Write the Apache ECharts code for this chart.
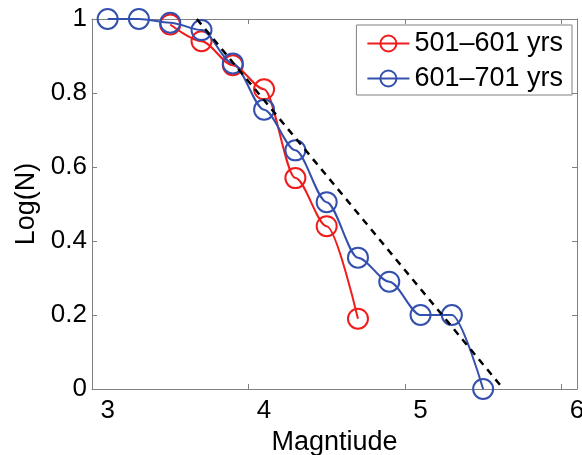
<!DOCTYPE html>
<html>
<head>
<meta charset="utf-8">
<script src="https://cdn.jsdelivr.net/npm/echarts@6/dist/echarts.min.js"></script>
<style>
  html, body { margin: 0; padding: 0; background: #fff; }
  #chart { width: 582px; height: 455px; }
</style>
</head>
<body>
<div id="chart"></div>
<script>
// Cumulative magnitude distributions for two time windows
const magRed = [3.4, 3.6, 3.8, 4.0, 4.2, 4.4, 4.6];
const logNRed = [0.985, 0.94, 0.875, 0.81, 0.57, 0.44, 0.19];

const magBlue = [3.0, 3.2, 3.4, 3.6, 3.8, 4.0, 4.2, 4.4, 4.6, 4.8, 5.0, 5.2, 5.4];
const logNBlue = [1.0, 1.0, 0.99, 0.97, 0.88, 0.755, 0.645, 0.505, 0.355, 0.29, 0.2, 0.2, 0.0];

// Reference straight-line fit (end points)
const fitMag = [3.57, 5.53];
const fitLogN = [1.0, 0.0];

const xTicks = [3, 4, 5, 6];

const seriesNames = ['501\u2013601 yrs', '601\u2013701 yrs'];

const RED = '#f01c1c';
const BLUE = '#3450ae';
const AXIS = '#808080';
const FONT = 'Liberation Sans, Arial, Helvetica, sans-serif';

const pairs = (xs, ys) => xs.map((x, i) => [x, ys[i]]);

const chart = echarts.init(document.getElementById('chart'), null, { renderer: 'canvas' });

const tickLabel = (v) => String(Math.round(v * 10) / 10);

chart.setOption({
  animation: false,
  backgroundColor: '#fff',
  grid: { left: 92, right: 5, top: 19, bottom: 66, containLabel: false, outerBoundsMode: 'none' },
  legend: {
    data: seriesNames,
    orient: 'vertical',
    right: 10,
    top: 25,
    itemWidth: 42,
    itemHeight: 20,
    itemGap: 8,
    padding: [5, 9, 3, 10],
    backgroundColor: '#fff',
    borderColor: AXIS,
    borderWidth: 1,
    borderRadius: 0,
    textStyle: { fontFamily: FONT, fontSize: 27, color: '#000' }
  },
  xAxis: [
    {
      type: 'value', min: 2.9, max: 6, interval: 1,
      name: 'Magntiude', nameLocation: 'middle', nameGap: 40,
      nameTextStyle: { fontFamily: FONT, fontSize: 27, color: '#000' },
      axisLine: { show: true, onZero: false, lineStyle: { color: AXIS, width: 1 } },
      axisTick: { show: true, inside: true, length: 5, lineStyle: { color: AXIS } },
      axisLabel: {
        fontFamily: FONT, fontSize: 26, color: '#000', margin: 9,
        customValues: xTicks, formatter: tickLabel
      },
      splitLine: { show: false }
    },
    {
      type: 'value', min: 2.9, max: 6, interval: 1, position: 'top',
      axisLine: { show: true, onZero: false, lineStyle: { color: AXIS, width: 1 } },
      axisTick: { show: true, inside: true, length: 5, lineStyle: { color: AXIS } },
      axisLabel: { show: false },
      splitLine: { show: false }
    }
  ],
  yAxis: [
    {
      type: 'value', min: 0, max: 1, interval: 0.2,
      name: 'Log(N)', nameLocation: 'middle', nameGap: 48, nameRotate: 90,
      nameTextStyle: { fontFamily: FONT, fontSize: 27, color: '#000' },
      axisLine: { show: true, onZero: false, lineStyle: { color: AXIS, width: 1 } },
      axisTick: { show: true, inside: true, length: 5, lineStyle: { color: AXIS } },
      axisLabel: { fontFamily: FONT, fontSize: 26, color: '#000', margin: 5, formatter: tickLabel },
      splitLine: { show: false }
    },
    {
      type: 'value', min: 0, max: 1, interval: 0.2, position: 'right',
      axisLine: { show: true, onZero: false, lineStyle: { color: AXIS, width: 1 } },
      axisTick: { show: true, inside: true, length: 5, lineStyle: { color: AXIS } },
      axisLabel: { show: false },
      splitLine: { show: false }
    }
  ],
  series: [
    {
      name: seriesNames[0], type: 'line',
      data: pairs(magRed, logNRed),
      smooth: 0.3, smoothMonotone: 'x',
      symbol: 'circle', symbolSize: 20, showAllSymbol: true,
      lineStyle: { color: RED, width: 2 },
      itemStyle: { color: 'rgba(0,0,0,0)', borderColor: RED, borderWidth: 2 },
      z: 3
    },
    {
      name: seriesNames[1], type: 'line',
      data: pairs(magBlue, logNBlue),
      smooth: 0.3, smoothMonotone: 'x',
      symbol: 'circle', symbolSize: 20, showAllSymbol: true,
      lineStyle: { color: BLUE, width: 2 },
      itemStyle: { color: 'rgba(0,0,0,0)', borderColor: BLUE, borderWidth: 2 },
      z: 4
    },
    {
      name: 'fit', type: 'line',
      data: pairs(fitMag, fitLogN),
      symbol: 'none',
      lineStyle: { color: '#000', width: 2.5, type: [7, 6] },
      z: 5
    }
  ]
});
</script>
</body>
</html>
